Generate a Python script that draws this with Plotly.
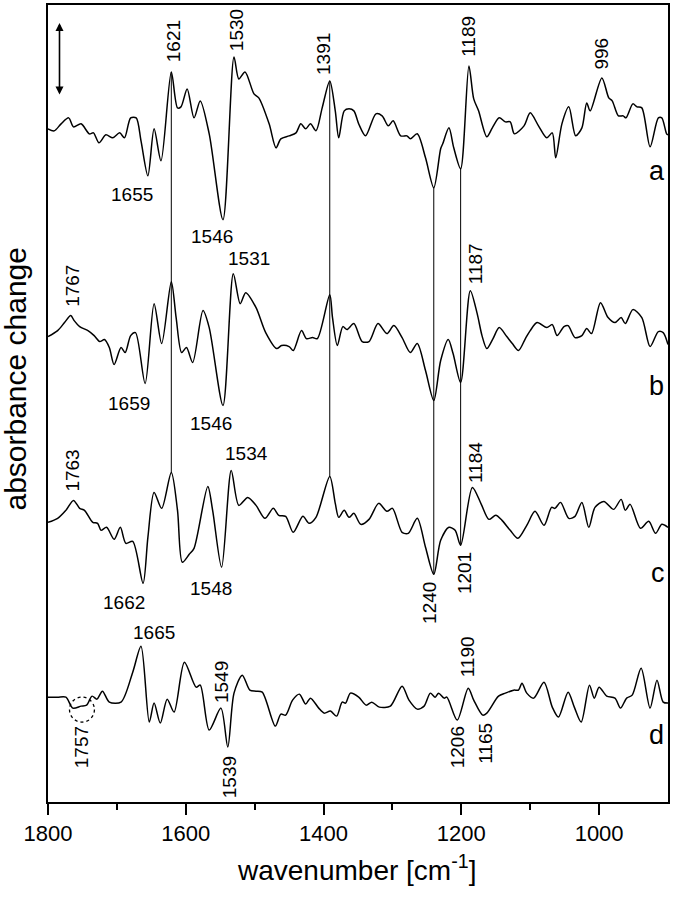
import numpy as np
import plotly.graph_objects as go

# difference spectra a-d (arbitrary absorbance units, baseline = 0)
wn_a = [1800, 1791, 1781, 1770, 1763, 1752, 1740, 1734, 1726, 1716, 1706, 1696, 1689, 1680, 1672,
        1665, 1655, 1646, 1636, 1621, 1612, 1607, 1598, 1588, 1579, 1566, 1546, 1530, 1523, 1514,
        1501, 1494, 1479, 1469, 1462, 1450, 1440, 1433, 1426, 1419, 1411, 1402, 1391, 1383, 1378,
        1370, 1363, 1356, 1349, 1339, 1324, 1315, 1306, 1299, 1288, 1279, 1274, 1264, 1252, 1240,
        1230, 1227, 1218, 1211, 1201, 1189, 1182, 1175, 1163, 1155, 1145, 1136, 1129, 1123, 1109,
        1100, 1088, 1076, 1068, 1063, 1054, 1044, 1034, 1025, 1018, 1013, 996, 986, 981, 972,
        965, 961, 951, 945, 938, 926, 914, 909, 902, 900]
da_a = [0, -2, 5, 11, 2, 5, -5, -4, -14, -6, -9, -4, -9, 11, 11,
        -12, -47, 0, -32, 57, 21, 22, 40, 11, 28, -5, -91, 72, 50, 57,
        35, 31, 5, -19, -10, -7, -4, 5, 0, 5, -2, 21, 48, 18, -9,
        18, 20, 18, 5, -7, 15, 13, 3, 8, -7, -7, -10, -5, -29, -59,
        -20, -15, 1, -19, -40, 63, 30, 18, -8, 1, 11, 7, 7, -5, 3,
        16, 3, -9, -4, -29, 5, 22, -7, 1, 26, 18, 51, 31, 28, 13,
        13, 11, 25, 22, 21, -18, 11, 11, -5, -6]

wn_b = [1800, 1786, 1776, 1767, 1762, 1754, 1742, 1733, 1725, 1718, 1711, 1704, 1694, 1688, 1680,
        1673, 1659, 1646, 1635, 1621, 1614, 1606, 1599, 1590, 1575, 1566, 1546, 1531, 1521, 1513,
        1498, 1484, 1468, 1461, 1450, 1444, 1432, 1425, 1416, 1409, 1391, 1387, 1380, 1372, 1366,
        1356, 1344, 1334, 1321, 1308, 1298, 1286, 1274, 1264, 1252, 1240, 1230, 1219, 1212, 1201,
        1187, 1177, 1170, 1163, 1154, 1145, 1134, 1126, 1117, 1107, 1100, 1090, 1076, 1068, 1061,
        1051, 1045, 1035, 1025, 1018, 1011, 998, 987, 977, 968, 962, 951, 938, 926, 914,
        907, 900]
da_b = [-1, 5, 13, 20, 15, 9, 5, 0, -6, -4, -12, -29, -12, -17, 0,
        3, -48, 32, -8, 54, 18, -17, -12, -27, 25, 8, -70, 62, 32, 43,
        28, 3, -13, -10, -11, -15, 5, -3, -2, -3, 41, 18, -10, 9, 6,
        12, -6, -6, 12, 2, 10, -2, -17, -8, -35, -65, -25, -4, -18, -47,
        45, 22, 0, -13, -3, 8, -1, -8, -15, -3, 5, 13, 8, 11, 0,
        9, 10, -2, 0, 7, 2, 33, 18, 13, 18, 12, 26, 18, -11, 4,
        3, -9]

wn_c = [1800, 1786, 1774, 1763, 1754, 1747, 1735, 1728, 1723, 1715, 1704, 1695, 1687, 1677, 1662,
        1655, 1646, 1635, 1621, 1612, 1605, 1595, 1588, 1568, 1561, 1548, 1534, 1523, 1510, 1498,
        1485, 1473, 1465, 1455, 1444, 1430, 1421, 1411, 1391, 1383, 1378, 1370, 1363, 1356, 1346,
        1334, 1320, 1308, 1300, 1286, 1277, 1264, 1252, 1240, 1230, 1218, 1209, 1201, 1184, 1171,
        1160, 1150, 1141, 1129, 1118, 1105, 1093, 1080, 1069, 1064, 1056, 1044, 1035, 1025, 1015,
        1006, 993, 979, 968, 962, 955, 940, 928, 918, 909, 900]
da_c = [-2, 2, 10, 20, 12, 10, -2, -3, -10, -7, -19, -7, -23, -21, -63,
        -17, 28, 12, 48, 10, -42, -34, -28, 34, 10, -47, 50, 15, 23, 15,
        2, 12, 5, 4, -12, 4, -3, 3, 44, 17, 3, 10, 3, 7, -4,
        1, 17, 9, 12, -12, -13, 2, -27, -54, -20, -7, -10, -25, 33, 16,
        1, 5, 0, -10, -18, -5, 9, -5, 13, 12, 18, 2, 4, 18, -7,
        13, 19, 11, 21, 10, 16, -8, -1, -13, -4, -7]

wn_d = [1800, 1786, 1774, 1764, 1752, 1744, 1736, 1729, 1721, 1711, 1694, 1677, 1665, 1653, 1646,
        1637, 1627, 1617, 1602, 1585, 1579, 1566, 1549, 1539, 1530, 1518, 1507, 1498, 1489, 1470,
        1462, 1455, 1445, 1435, 1426, 1419, 1407, 1399, 1390, 1381, 1373, 1368, 1361, 1349, 1338,
        1330, 1319, 1303, 1286, 1276, 1264, 1254, 1245, 1238, 1233, 1225, 1221, 1206, 1190, 1182,
        1169, 1163, 1146, 1136, 1124, 1117, 1112, 1105, 1095, 1080, 1068, 1059, 1045, 1036, 1026,
        1014, 1007, 1000, 989, 977, 969, 960, 952, 939, 926, 916, 907, 900]
da_d = [0, 0, 0, -11, -9, -8, 1, -2, 6, -5, -5, 25, 51, -25, -6,
        -26, -2, -15, 35, 10, 12, -33, -11, -50, 4, 22, 7, 6, 5, -29,
        -17, -18, -3, 3, -7, -1, -11, -16, -14, -19, -5, -6, 4, 0, -8,
        -5, -10, -9, 11, -3, -12, -9, 4, 0, 4, -1, 0, -23, 9, -3,
        -18, -16, 1, 4, 7, 7, 14, 4, -1, 15, -10, -20, 5, -10, -25,
        12, -1, 10, 1, -1, -11, -1, 2, 29, -11, 17, -5, -6]

spectra = {"a": (wn_a, da_a), "b": (wn_b, da_b), "c": (wn_c, da_c), "d": (wn_d, da_d)}
offsets = {"a": 674, "b": 467, "c": 282, "d": 105}

# bands marked with a vertical line from spectrum a to spectrum c
marker_bands = [1621, 1391, 1240, 1201]

# peak labels: (text, wavenumber, height, angle)
peak_labels = [
    ("1655", 1677.5, 608, 0), ("1621", 1616.7, 762, -90), ("1530", 1525.4, 773, -90),
    ("1546", 1561.6, 566, 0), ("1391", 1399.3, 749, -90), ("1189", 1189.1, 767, -90),
    ("996", 996.4, 749, -90),
    ("1767", 1764.9, 517, -90), ("1659", 1681.9, 399, 0), ("1546", 1563, 379, 0),
    ("1531", 1508, 544, 0), ("1187", 1179.4, 539, -90),
    ("1763", 1764.9, 332, -90), ("1662", 1689, 200, 0), ("1548", 1563, 214, 0),
    ("1534", 1512.3, 349, 0), ("1184", 1179.4, 340, -90), ("1240", 1246, 199, -90),
    ("1201", 1196.4, 229, -90),
    ("1665", 1645.7, 170, 0), ("1757", 1751.9, 55, -90), ("1549", 1549, 120, -90),
    ("1539", 1537, 25, -90), ("1190", 1191.6, 145, -90), ("1206", 1206, 55, -90),
    ("1165", 1166, 59, -90),
]
trace_labels = [("a", 916.7, 632), ("b", 916.7, 417), ("c", 913.8, 229), ("d", 916.7, 67)]

FONT = "Liberation Sans, Arial, sans-serif"

fig = go.Figure()

for name, (wn, da) in spectra.items():
    fig.add_trace(go.Scatter(
        x=wn, y=np.array(da) + offsets[name], mode="lines",
        line=dict(color="black", width=1.5, shape="spline", smoothing=0.8),
        showlegend=False, hoverinfo="skip"
    ))

# vertical guide lines
wa = np.array(wn_a[::-1]); ya = np.array(da_a[::-1])
wc = np.array(wn_c[::-1]); yc = np.array(da_c[::-1])
for band in marker_bands:
    top = np.interp(band, wa, ya) + offsets["a"]
    bot = np.interp(band, wc, yc) + offsets["c"]
    fig.add_trace(go.Scatter(x=[band, band], y=[top, bot], mode="lines",
                             line=dict(color="black", width=1), showlegend=False, hoverinfo="skip"))

for text, x, y, ang in peak_labels:
    fig.add_annotation(x=x, y=y, text=text, textangle=ang, showarrow=False,
                       font=dict(size=19, color="black", family=FONT))
for text, x, y in trace_labels:
    fig.add_annotation(x=x, y=y, text=text, showarrow=False,
                       font=dict(size=27, color="black", family=FONT))

# scale arrow
fig.add_annotation(x=1783.3, y=780, ax=1783.3, ay=707, axref="x", ayref="y", xref="x", yref="y",
                   text="", showarrow=True, arrowhead=2, startarrowhead=2, arrowside="end+start",
                   arrowsize=1, startarrowsize=1, arrowwidth=1.6, arrowcolor="black")

# dotted ellipse around 1757
fig.add_shape(type="circle", xref="x", yref="y", x0=1768.8, x1=1732.6, y0=80, y1=105,
              line=dict(color="black", width=1.3, dash="dot"))

# axis titles
fig.add_annotation(xref="paper", yref="paper", x=0.498, y=-0.108, text="wavenumber [cm<sup>-1</sup>]",
                   showarrow=False, font=dict(size=28, color="black", family=FONT))
fig.add_annotation(xref="paper", yref="paper", x=-0.052, y=0.531, text="absorbance change",
                   textangle=-90, showarrow=False, xanchor="center",
                   font=dict(size=30, color="black", family=FONT))

fig.update_layout(
    width=673, height=899,
    margin=dict(l=48, r=3, t=4, b=97),
    paper_bgcolor="white", plot_bgcolor="white",
    font=dict(family=FONT, color="black"),
    xaxis=dict(range=[1800, 900], tickvals=[1800, 1600, 1400, 1200, 1000], ticks="outside",
               ticklen=11, tickwidth=1.5, tickcolor="black",
               minor=dict(tickvals=[1700, 1500, 1300, 1100], ticks="outside", ticklen=6,
                          tickwidth=1.5, tickcolor="black"),
               showline=True, linewidth=2, linecolor="black", mirror=True, showgrid=False,
               zeroline=False, tickfont=dict(size=22, family=FONT, color="black")),
    yaxis=dict(range=[0, 798], showticklabels=False, ticks="", showline=True, linewidth=2,
               linecolor="black", mirror=True, showgrid=False, zeroline=False),
)

fig.write_html("out.html", config={"displayModeBar": False},
               post_script="document.body.style.margin='0';")
